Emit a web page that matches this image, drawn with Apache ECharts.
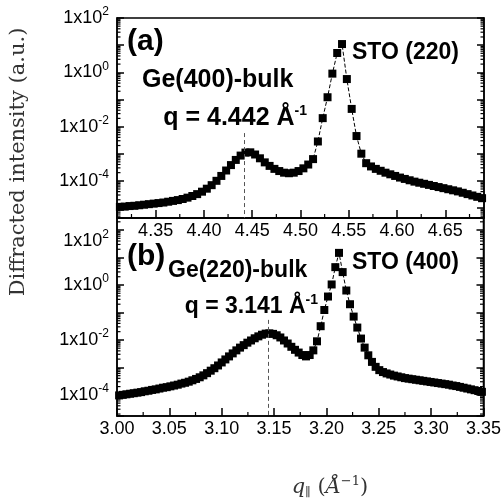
<!DOCTYPE html>
<html><head><meta charset="utf-8">
<script src="https://cdn.jsdelivr.net/npm/echarts@6/dist/echarts.min.js"></script>
<style>html,body{margin:0;padding:0;background:#fff}#c{width:504px;height:503px}</style>
</head><body><div id="c"></div>
<script>
// ---- Panel (a): STO (220) region ----
const qA = [4.313,4.318,4.323,4.328,4.333,4.338,4.343,4.348,4.353,4.358,
4.363,4.368,4.373,4.378,4.383,4.388,4.393,4.398,4.403,4.408,
4.413,4.418,4.423,4.428,4.433,4.438,4.443,4.448,4.453,4.458,
4.463,4.468,4.473,4.478,4.483,4.488,4.493,4.498,4.503,4.508,
4.513,4.518,4.523,4.528,4.533,4.538,4.543,4.548,4.553,4.558,
4.563,4.568,4.573,4.578,4.583,4.588,4.593,4.598,4.603,4.608,
4.613,4.618,4.623,4.628,4.633,4.638,4.643,4.648,4.653,4.658,
4.663,4.668,4.673,4.678,4.683,4.688];
// log10 of diffracted intensity (a.u.)
const logIA = [-4.96,-4.95,-4.93,-4.92,-4.90,-4.88,-4.86,-4.84,-4.82,-4.80,
-4.77,-4.74,-4.71,-4.67,-4.62,-4.56,-4.49,-4.40,-4.29,-4.16,
-4.00,-3.82,-3.62,-3.42,-3.23,-3.07,-2.96,-2.95,-3.03,-3.17,
-3.32,-3.45,-3.56,-3.64,-3.70,-3.72,-3.70,-3.64,-3.54,-3.40,
-3.20,-2.55,-1.69,-0.92,-0.05,0.71,1.04,-0.25,-1.35,-2.35,
-3.00,-3.35,-3.47,-3.56,-3.63,-3.70,-3.76,-3.82,-3.88,-3.93,
-3.98,-4.03,-4.07,-4.11,-4.15,-4.19,-4.23,-4.27,-4.31,-4.35,
-4.39,-4.44,-4.49,-4.54,-4.59,-4.64];

// ---- Panel (b): STO (400) region ----
const qB = [3.0020,3.0055,3.0090,3.0125,3.0160,3.0195,3.0230,3.0265,3.0300,3.0335,
3.0370,3.0405,3.0440,3.0475,3.0510,3.0545,3.0580,3.0615,3.0650,3.0685,
3.0720,3.0755,3.0790,3.0825,3.0860,3.0895,3.0930,3.0965,3.1000,3.1035,
3.1070,3.1105,3.1140,3.1175,3.1210,3.1245,3.1280,3.1315,3.1350,3.1385,
3.1420,3.1455,3.1490,3.1525,3.1560,3.1595,3.1630,3.1665,3.1700,3.1735,
3.1770,3.1805,3.1840,3.1875,3.1910,3.1945,3.1980,3.2015,3.2050,3.2085,
3.2120,3.2155,3.2190,3.2225,3.2260,3.2295,3.2330,3.2365,3.2400,3.2435,
3.2470,3.2505,3.2540,3.2575,3.2610,3.2645,3.2680,3.2715,3.2750,3.2785,
3.2820,3.2855,3.2890,3.2925,3.2960,3.2995,3.3030,3.3065,3.3100,3.3135,
3.3170,3.3205,3.3240,3.3275,3.3310,3.3345,3.3380,3.3415,3.3450,3.3485];
const logIB = [-4.02,-4.00,-3.98,-3.96,-3.94,-3.92,-3.90,-3.87,-3.85,-3.82,
-3.80,-3.77,-3.74,-3.72,-3.69,-3.66,-3.63,-3.59,-3.56,-3.52,
-3.47,-3.42,-3.36,-3.29,-3.21,-3.12,-3.03,-2.93,-2.82,-2.71,
-2.60,-2.49,-2.38,-2.28,-2.19,-2.10,-2.02,-1.94,-1.87,-1.81,
-1.77,-1.76,-1.78,-1.83,-1.91,-2.02,-2.13,-2.25,-2.36,-2.46,
-2.55,-2.60,-2.55,-2.38,-2.05,-1.50,-0.91,-0.42,0.02,0.65,
1.17,0.47,-0.20,-0.70,-1.15,-1.55,-1.95,-2.28,-2.56,-2.80,
-2.98,-3.10,-3.17,-3.22,-3.26,-3.30,-3.33,-3.36,-3.39,-3.41,
-3.43,-3.45,-3.47,-3.49,-3.51,-3.53,-3.55,-3.57,-3.59,-3.61,
-3.63,-3.66,-3.68,-3.71,-3.74,-3.77,-3.80,-3.83,-3.86,-3.89];

// Ge bulk reference positions and labels
const geBulkA = 4.442, geBulkB = 3.144;
const labelsA = {panel:'(a)', ge:'Ge(400)-bulk', q:'4.442', sto:'STO (220)'};
const labelsB = {panel:'(b)', ge:'Ge(220)-bulk', q:'3.141', sto:'STO (400)'};
const yTitle = 'Diffracted intensity (a.u.)';

// axis ranges (log10 units for y)
const X_A = [4.31, 4.69], Y_A = [-5.37, 2];
const X_B = [3.00, 3.35], Y_B = [-4.77, 2.44];

const FONT = 'Liberation Sans';
const SERIF = 'DejaVu Serif';
const chart = echarts.init(document.getElementById('c'));

function isInt(v){ return Math.abs(v - Math.round(v)) < 1e-6; }
function makeYLabel(skipTop){
  return function(v){
    if (!isInt(v)) return '';
    const n = Math.round(v);
    if (n % 2 !== 0) return '';
    if (skipTop && n === 2) return '';
    return '{b|1x10}{s|' + n + '}';
  };
}
const yRich = {
  b:{fontFamily:FONT, fontSize:18, color:'#000'},
  s:{fontFamily:FONT, fontSize:12, color:'#000', padding:[0,0,12,0]}
};
const axisLineStyle = {color:'#000', width:1.5};
function yAxes(gi, r, skipTop){
  return [
    {type:'value', gridIndex:gi, min:r[0], max:r[1], splitNumber:7, position:'left',
     axisLine:{show:true, onZero:false, lineStyle:axisLineStyle},
     axisTick:{show:true, inside:true, length:7, lineStyle:{color:'#000', width:1.5}},
     axisLabel:{formatter:makeYLabel(skipTop), rich:yRich, margin:8, showMinLabel:true, showMaxLabel:true},
     splitLine:{show:false}},
    {type:'value', gridIndex:gi, min:r[0], max:r[1], splitNumber:7, position:'right',
     axisLine:{show:true, onZero:false, lineStyle:axisLineStyle},
     axisTick:{show:true, inside:true, length:7, lineStyle:{color:'#000', width:1.5}},
     axisLabel:{show:false}, splitLine:{show:false}}
  ];
}
function xLabel(v){
  if (!isInt(v*20)) return '';
  return v.toFixed(2);
}
function xAxis(gi, r){
  return {type:'value', gridIndex:gi, min:r[0], max:r[1], splitNumber:7, position:'bottom',
    axisLine:{show:true, onZero:false, lineStyle:axisLineStyle},
    axisTick:{show:true, inside:true, length:8, lineStyle:{color:'#000', width:1.5}},
    axisLabel:{formatter:xLabel, fontFamily:FONT, fontSize:18, color:'#000', margin:4,
               showMinLabel:true, showMaxLabel:true},
    splitLine:{show:false}};
}

// minor ticks: log minors on y (both sides), 0.025 minors on x
function minorData(xr, yr){
  const d = [];
  for (let n = Math.floor(yr[0]); n <= Math.ceil(yr[1]); n++){
    for (let k = 2; k <= 9; k++){
      const v = n + Math.log10(k);
      if (v > yr[0] && v < yr[1]) d.push([xr[0], v, 0]);
    }
  }
  const start = Math.ceil((xr[0]-0.025)/0.05 - 1e-9)*0.05 + 0.025;
  for (let x = start; x < xr[1]; x += 0.05){
    if (x > xr[0]) d.push([x, yr[0], 1]);
  }
  return d;
}
function minorSeries(xi, yi, xr, yr){
  return {
    type:'custom', xAxisIndex:xi, yAxisIndex:yi, silent:true, clip:false, z:5,
    dimensions:['x','y','t'], encode:{x:0, y:1},
    data:minorData(xr, yr),
    renderItem:function(params, api){
      const t = api.value(2);
      const st = {stroke:'#000', lineWidth:1.2};
      if (t === 0){
        const y = api.value(1);
        const p1 = api.coord([xr[0], y]), p2 = api.coord([xr[1], y]);
        return {type:'group', children:[
          {type:'line', shape:{x1:p1[0], y1:p1[1], x2:p1[0]+3.5, y2:p1[1]}, style:st},
          {type:'line', shape:{x1:p2[0], y1:p2[1], x2:p2[0]-3.5, y2:p2[1]}, style:st}
        ]};
      }
      const p = api.coord([api.value(0), yr[0]]);
      return {type:'line', shape:{x1:p[0], y1:p[1], x2:p[0], y2:p[1]-4}, style:st};
    }
  };
}
function dataSeries(xi, yi, q, l, geQ, geTop, ymin){
  return {
    type:'line', xAxisIndex:xi, yAxisIndex:yi, z:3,
    data:q.map((v,i)=>[v, l[i]]),
    symbol:'rect', symbolSize:8, showSymbol:true, showAllSymbol:true,
    itemStyle:{color:'#000'},
    lineStyle:{color:'#000', width:1, type:'dashed'},
    animation:false,
    markLine:{silent:true, symbol:'none', label:{show:false},
      lineStyle:{color:'#555', width:1, type:[4,3]},
      data:[[{coord:[geQ, geTop]}, {coord:[geQ, ymin]}]]}
  };
}

function txt(x, y, text, opts){
  return Object.assign({type:'text', x:x, y:y, z:20, silent:true,
    style:Object.assign({text:text, fill:'#000', fontFamily:FONT, fontWeight:'bold', fontSize:23,
      align:'left', verticalAlign:'middle'}, opts || {})});
}
function qRich(fs){
  return {
    t:{fontFamily:FONT, fontWeight:'bold', fontSize:fs, color:'#000'},
    s:{fontFamily:FONT, fontWeight:'bold', fontSize:14, color:'#000', padding:[0,0,14,0]}
  };
}

const option = {
  animation:false,
  backgroundColor:'#fff',
  grid:[
    {left:117, top:18, width:367, height:200, show:true, borderColor:'#000', borderWidth:1.5},
    {left:117, top:218, width:367, height:198, show:true, borderColor:'#000', borderWidth:1.5}
  ],
  xAxis:[xAxis(0, X_A), xAxis(1, X_B)],
  yAxis:[].concat(yAxes(0, Y_A, false), yAxes(1, Y_B, true)),
  series:[
    dataSeries(0, 0, qA, logIA, geBulkA, -2.24, Y_A[0]),
    dataSeries(1, 2, qB, logIB, geBulkB, -1.27, Y_B[0]),
    minorSeries(0, 0, X_A, Y_A),
    minorSeries(1, 2, X_B, Y_B)
  ],
  graphic:[
    txt(127, 42, labelsA.panel, {fontSize:30}),
    txt(142, 80, labelsA.ge, {fontSize:25}),
    {type:'text', x:307, y:118, z:20, silent:true,
     style:{text:'{t|q = ' + labelsA.q + ' Å}{s|-1}', rich:qRich(25), align:'right', verticalAlign:'middle'}},
    txt(352, 53, labelsA.sto),
    txt(127, 257, labelsB.panel, {fontSize:30}),
    txt(168, 271, labelsB.ge),
    {type:'text', x:318, y:307, z:20, silent:true,
     style:{text:'{t|q = ' + labelsB.q + ' Å}{s|-1}', rich:qRich(23), align:'right', verticalAlign:'middle'}},
    txt(352, 263, labelsB.sto),
    // top tick label of panel (b), set a little below its tick as in the original
    {type:'text', x:109, y:241, z:20, silent:true,
     style:{text:'{b|1x10}{s|2}', rich:yRich, align:'right', verticalAlign:'middle'}},
    {type:'text', x:19, y:162, rotation:Math.PI/2, z:20, silent:true,
     style:{text:yTitle, fontFamily:SERIF, fontSize:21, fill:'#333', align:'center', verticalAlign:'middle'}},
    {type:'text', x:330, y:488, z:20, silent:true,
     style:{text:'{i|q}{sub|∥} ({i|Å}{sup|−1})', align:'center', verticalAlign:'middle',
       rich:{
         i:{fontFamily:SERIF, fontStyle:'italic', fontSize:21, color:'#333'},
         sub:{fontFamily:SERIF, fontSize:12, color:'#333', padding:[10,0,0,0]},
         sup:{fontFamily:SERIF, fontSize:13, color:'#333', padding:[0,0,13,0]}
       },
       fontFamily:SERIF, fontSize:21, fill:'#333'}}
  ]
};
chart.setOption(option);
</script></body></html>
